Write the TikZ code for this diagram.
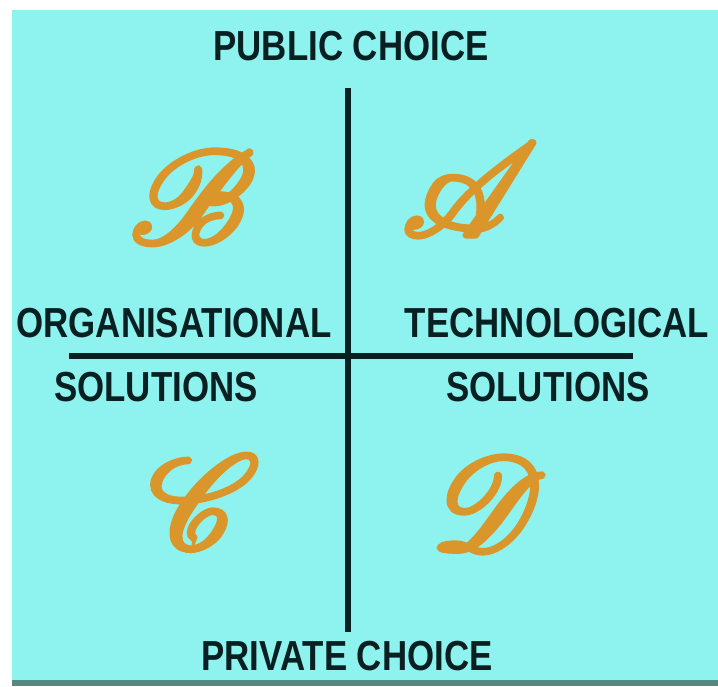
\documentclass[tikz,border=0pt]{standalone}
\usepackage{fontspec}
\newfontfamily\quadfont{Liberation Sans}[FakeStretch=0.83]
\definecolor{sea}{RGB}{142,243,238}
\definecolor{band}{RGB}{88,135,130}
\definecolor{ink}{RGB}{8,32,34}
\definecolor{gold}{RGB}{218,150,42}
% heavy script capital: rsfs glyph, filled and stroked
\newcommand{\scriptletter}[1]{\scalebox{2.65}{\special{pdf:literal direct 2 Tr 0.9 w}\usefont{U}{rsfs}{m}{n}\fontsize{24.88}{25}\selectfont #1\special{pdf:literal direct 0 Tr}}}

\begin{document}
\begin{tikzpicture}[x=0.5pt, y=-0.5pt,
  lbl/.style={font=\quadfont\bfseries\fontsize{21}{21}\selectfont, text=ink, inner sep=0pt},
  letter/.style={text=gold, inner sep=0pt},
  axis/.style={draw=ink, line width=3pt}]
\useasboundingbox (0,0) rectangle (718,686);
% panel
\fill[white] (0,0) rectangle (718,686);
\fill[sea] (12,10) rectangle (718,680);
\fill[band] (12,680) rectangle (718,686);
% axes
\coordinate (vtop) at (348,88);
\coordinate (vbot) at (348,632);
\coordinate (hleft) at (69,356);
\coordinate (hright) at (633,356);
\draw[axis] (vtop) -- (vbot);
\draw[axis] (hleft) -- (hright);
% axis labels
\node[lbl] (public) at (351,46) {PUBLIC CHOICE};
\node[lbl] (private) at (347,656) {PRIVATE CHOICE};
\node[lbl] (org) at (174,323) {ORGANISATIONAL};
\node[lbl] (tech) at (557,323) {TECHNOLOGICAL};
\node[lbl] (orgsol) at (156,387) {SOLUTIONS};
\node[lbl] (techsol) at (548,387) {SOLUTIONS};
% quadrant letters
\node[letter] (qb) at (190,197) {\scriptletter{B}};
\node[letter] (qa) at (455,190) {\scriptletter{A}};
\node[letter] (qc) at (193,502) {\scriptletter{C}};
\node[letter] (qd) at (482,503) {\scriptletter{D}};
\end{tikzpicture}
\end{document}
